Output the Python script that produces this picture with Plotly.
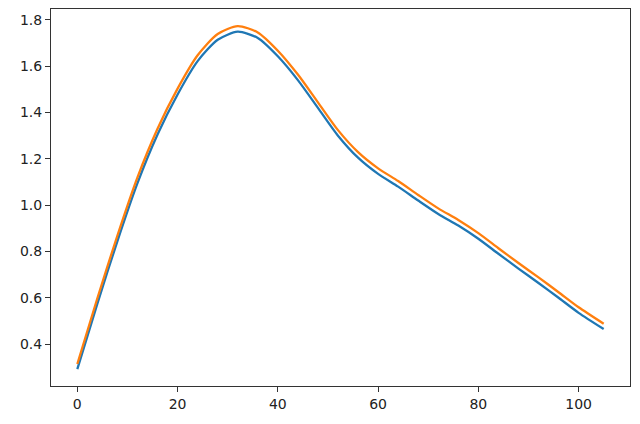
import plotly.graph_objects as go

x_vals = [0, 4, 8, 12, 16, 20, 24, 28, 32, 36, 40, 44, 48, 52, 56, 60, 64, 68, 72, 76, 80, 84, 88, 92, 96, 100, 105]
blue_vals = [0.292, 0.575, 0.845, 1.095, 1.305, 1.478, 1.622, 1.714, 1.749, 1.722, 1.643, 1.54, 1.42, 1.30, 1.205, 1.135, 1.08, 1.02, 0.962, 0.912, 0.855, 0.79, 0.726, 0.664, 0.60, 0.535, 0.465]
orange_vals = [0.314, 0.598, 0.869, 1.12, 1.33, 1.503, 1.647, 1.739, 1.773, 1.746, 1.667, 1.564, 1.444, 1.324, 1.229, 1.159, 1.104, 1.044, 0.986, 0.936, 0.879, 0.814, 0.75, 0.688, 0.624, 0.559, 0.488]

x_ticks = [0, 20, 40, 60, 80, 100]
y_ticks = [0.4, 0.6, 0.8, 1.0, 1.2, 1.4, 1.6, 1.8]

fig = go.Figure()
fig.add_trace(go.Scatter(x=x_vals, y=blue_vals, mode="lines",
                         line=dict(color="#1f77b4", width=2.3, shape="spline", smoothing=0.7)))
fig.add_trace(go.Scatter(x=x_vals, y=orange_vals, mode="lines",
                         line=dict(color="#ff7f0e", width=2.3, shape="spline", smoothing=0.7)))

axis_common = dict(showgrid=False, zeroline=False, showline=True, mirror=True,
                   linecolor="#333333", linewidth=1, ticks="outside", ticklen=5,
                   tickcolor="#333333", tickwidth=1,
                   tickfont=dict(family="DejaVu Sans", size=14, color="#222222"))

fig.update_layout(
    width=632, height=416,
    margin=dict(l=43, r=10, t=1, b=38),
    paper_bgcolor="white", plot_bgcolor="white",
    showlegend=False,
    xaxis=dict(range=[-5.25, 110.25], tickvals=x_ticks,
               ticktext=[str(v) for v in x_ticks], **axis_common),
    yaxis=dict(range=[0.219, 1.847], tickvals=y_ticks,
               ticktext=[f"{v:.1f}" for v in y_ticks], **axis_common),
)

fig.write_html("out.html")
